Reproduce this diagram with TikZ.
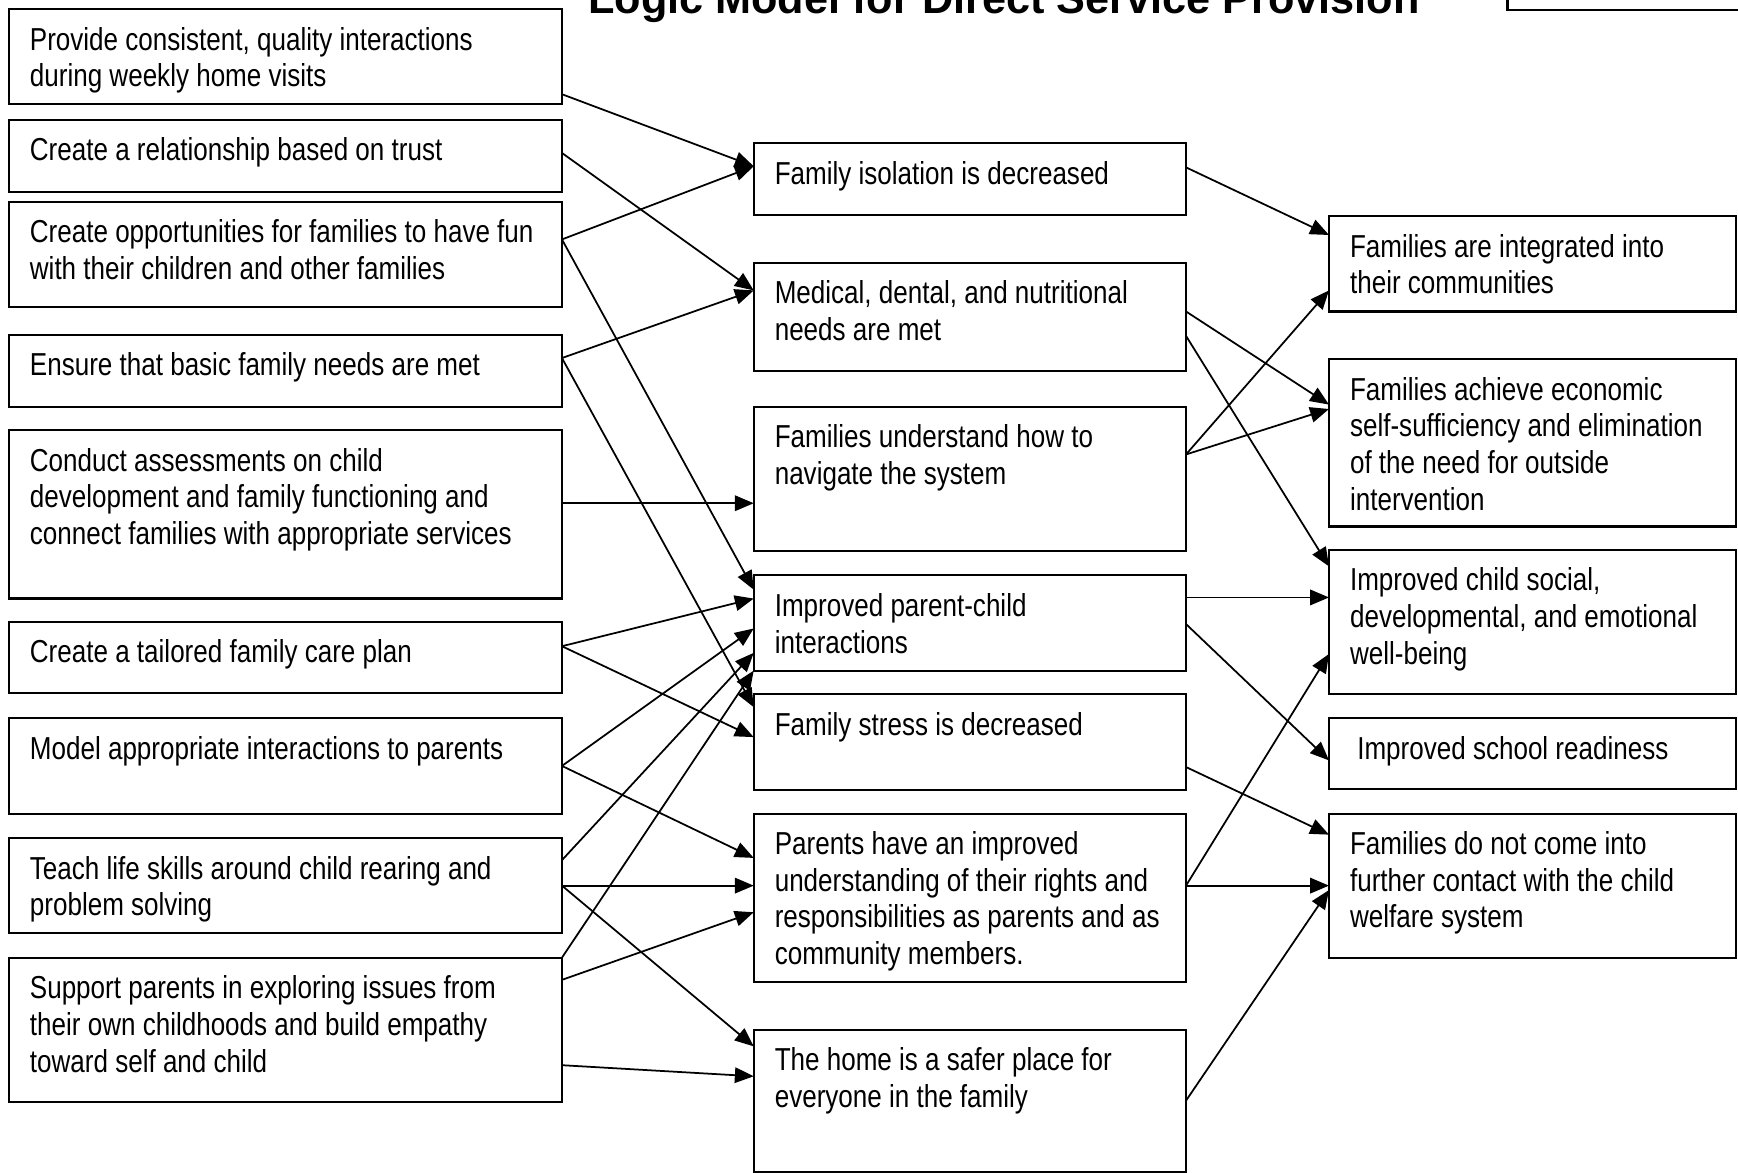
\documentclass[tikz,border=0pt]{standalone}
\usepackage{fontspec}
\newfontfamily\narrowfont{Liberation Sans}[FakeStretch=0.82]
\newfontfamily\titlefont{Liberation Sans}
\usetikzlibrary{arrows.meta, calc}

\tikzset{
  box/.style={draw, line width=0.55pt, anchor=north west, outer sep=0pt,
    inner xsep=1.9mm, inner ysep=1.4mm,
    font=\narrowfont\fontsize{8.15pt}{9.4pt}\selectfont},
  link/.style={-{Triangle[length=1.7mm, width=1.4mm]}, line width=0.45pt}
}
% top-aligned text in a box of fixed size
\newcommand{\boxtext}[3]{\parbox[t][#2][t]{#1}{\strut #3}}

\begin{document}
\begin{tikzpicture}[x=0.1mm, y=-0.1mm]
  \useasboundingbox (0,0) rectangle (1568,1058);
  \clip (0,0) rectangle (1568,1058);
  \fill[white] (0,0) rectangle (1568,1058);

  % Title (cut at the top of the page)
  \node[font=\titlefont\bfseries\fontsize{11.1pt}{13pt}\selectfont,
        anchor=base west, inner sep=0pt] (title) at (530,12)
        {Logic Model for Direct Service Provision};
  \node[draw, line width=0.55pt, anchor=south west, inner sep=0pt, outer sep=0pt,
        minimum width=30mm, minimum height=5mm] (corner) at (1360,9) {};

  % --- Left column: activities ---
  \node[box] (l1) at (8,8)   {\boxtext{46.1mm}{5.8mm}{Provide consistent, quality interactions\\during weekly home visits}};
  \node[box] (l2) at (8,108) {\boxtext{46.1mm}{3.7mm}{Create a relationship based on trust}};
  \node[box] (l3) at (8,182) {\boxtext{46.1mm}{6.7mm}{Create opportunities for families to have fun\\with their children and other families}};
  \node[box] (l4) at (8,302) {\boxtext{46.1mm}{3.7mm}{Ensure that basic family needs are met}};
  \node[box] (l5) at (8,388) {\boxtext{46.1mm}{12.4mm}{Conduct assessments on child\\development and family functioning and\\connect families with appropriate services}};
  \node[box] (l6) at (8,561) {\boxtext{46.1mm}{3.6mm}{Create a tailored family care plan}};
  \node[box] (l7) at (8,648) {\boxtext{46.1mm}{5.8mm}{Model appropriate interactions to parents}};
  \node[box] (l8) at (8,756) {\boxtext{46.1mm}{5.8mm}{Teach life skills around child rearing and\\problem solving}};
  \node[box] (l9) at (8,864) {\boxtext{46.1mm}{10.2mm}{Support parents in exploring issues from\\their own childhoods and build empathy\\toward self and child}};

  % --- Middle column: short-term outcomes ---
  \node[box] (m1) at (680,129) {\boxtext{35.2mm}{3.7mm}{Family isolation is decreased}};
  \node[box] (m2) at (680,237) {\boxtext{35.2mm}{7.0mm}{Medical, dental, and nutritional\\needs are met}};
  \node[box] (m3) at (680,367) {\boxtext{35.2mm}{10.2mm}{Families understand how to\\navigate the system}};
  \node[box] (m4) at (680,519) {\boxtext{35.2mm}{5.8mm}{Improved parent-child\\interactions}};
  \node[box] (m5) at (680,626) {\boxtext{35.2mm}{5.9mm}{Family stress is decreased}};
  \node[box] (m6) at (680,734) {\boxtext{35.2mm}{12.4mm}{Parents have an improved\\understanding of their rights and\\responsibilities as parents and as\\community members.}};
  \node[box] (m7) at (680,929) {\boxtext{35.2mm}{10.0mm}{The home is a safer place for\\everyone in the family}};

  % --- Right column: long-term outcomes ---
  \node[box] (r1) at (1199,195) {\boxtext{32.95mm}{5.8mm}{Families are integrated into\\their communities}};
  \node[box] (r2) at (1199,324) {\boxtext{32.95mm}{12.3mm}{Families achieve economic\\self-sufficiency and elimination\\of the need for outside\\intervention}};
  \node[box] (r3) at (1199,496) {\boxtext{32.95mm}{10.2mm}{Improved child social,\\developmental, and emotional\\well-being}};
  \node[box] (r4) at (1199,648) {\boxtext{32.95mm}{3.6mm}{\ Improved school readiness}};
  \node[box] (r5) at (1199,734) {\boxtext{32.95mm}{10.2mm}{Families do not come into\\further contact with the child\\welfare system}};

  % --- Links: activities -> short-term (offsets from box tops) ---
  \foreach \a/\i/\b/\j in {l1/77/m1/21, l2/30/m2/25, l3/34/m1/21, l3/34/m4/13,
      l4/21/m2/25, l4/21/m5/12, l5/66/m3/87, l6/22/m4/21, l6/22/m5/39,
      l7/43/m4/48, l7/43/m6/40, l8/20/m4/70, l8/43/m6/65, l8/43/m7/15,
      l9/0/m4/86, l9/20/m6/89, l9/97/m7/42}
    \draw[link] ($(\a.north east)+(0,\i)$) -- ($(\b.north west)+(0,\j)$);

  % --- Links: short-term -> long-term ---
  \foreach \a/\i/\b/\j in {m1/22/r1/17, m2/44/r2/41, m2/66/r3/15, m3/43/r1/67,
      m3/43/r2/45, m4/20/r3/43, m4/44/r4/38, m5/66/r5/19, m6/65/r3/94,
      m6/65/r5/65, m7/64/r5/69}
    \draw[link] ($(\a.north east)+(0,\i)$) -- ($(\b.north west)+(0,\j)$);

\end{tikzpicture}
\end{document}
